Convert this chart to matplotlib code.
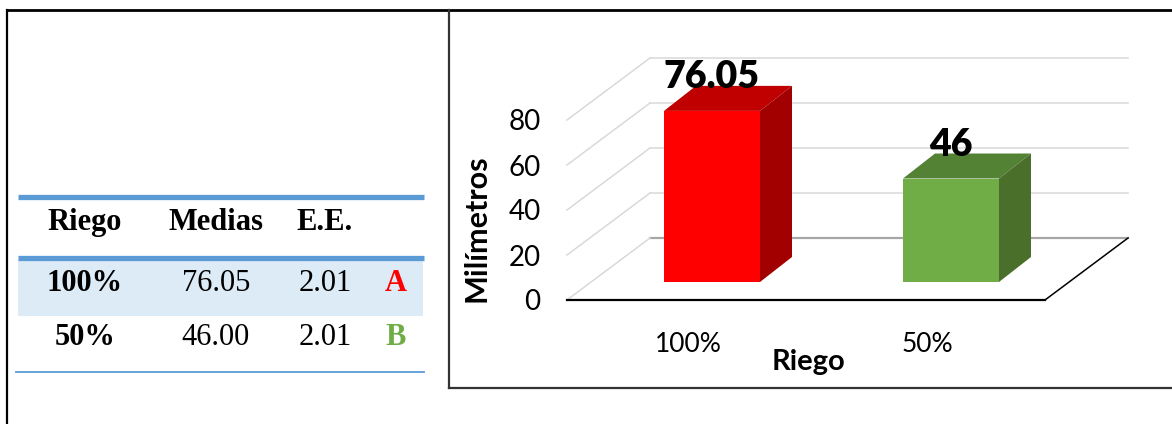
import matplotlib
matplotlib.use("Agg")
import matplotlib.pyplot as plt
from matplotlib.patches import Polygon, Rectangle

# datos
riego = ["100%", "50%"]
medias = [76.05, 46.00]
error_est = [2.01, 2.01]
letras = ["A", "B"]
yticks = [0, 20, 40, 60, 80]

# colores (frente, arriba, lado)
rojo = ("#FF0000", "#C00000", "#A20000")
verde = ("#70AD47", "#548235", "#4A6F2B")
colores_barra = [rojo, verde]
colores_letra = ["#FF0000", "#70AD47"]
azul = "#5B9BD5"

W, H = 1172, 424
fig = plt.figure(figsize=(W / 100, H / 100), dpi=100)

# ---------- marcos y tabla (coordenadas en pixeles) ----------
bg = fig.add_axes([0, 0, 1, 1])
bg.set_xlim(0, W)
bg.set_ylim(H, 0)
bg.axis("off")

bg.plot([7, 7], [10, H], color="black", lw=1.6)
bg.plot([7, W], [10, 10], color="black", lw=2.0)
bg.plot([449, 449], [10, 388], color="#333333", lw=1.6)
bg.plot([449, W], [388, 388], color="#333333", lw=1.6)

serif = ["Liberation Serif", "DejaVu Serif"]
fs_tab = 22
bg.plot([18, 424], [197, 197], color=azul, lw=3.8, solid_capstyle="butt")
bg.plot([18, 424], [258, 258], color=azul, lw=3.8, solid_capstyle="butt")
bg.add_patch(Rectangle((18, 260), 405, 56, color="#DDEBF7", lw=0))
bg.plot([16, 424], [372, 372], color=azul, lw=1.3)

cols_x = [85, 216, 325, 396]
for x, t in zip(cols_x[:3], ["Riego", "Medias", "E.E."]):
    bg.text(x, 230, t, ha="center", va="baseline", fontsize=fs_tab,
            fontweight="bold", family=serif)

for i, base in enumerate([291, 345]):
    bg.text(cols_x[0], base, riego[i], ha="center", va="baseline",
            fontsize=fs_tab, fontweight="bold", family=serif)
    bg.text(cols_x[1], base, f"{medias[i]:.2f}", ha="center", va="baseline",
            fontsize=fs_tab, family=serif)
    bg.text(cols_x[2], base, f"{error_est[i]:.2f}", ha="center", va="baseline",
            fontsize=fs_tab, family=serif)
    bg.text(cols_x[3], base, letras[i], ha="center", va="baseline",
            fontsize=fs_tab, fontweight="bold", family=serif,
            color=colores_letra[i])

# ---------- grafico de barras 3D ----------
sans = ["Lato", "DejaVu Sans"]
left, right, top, bottom = 567, 1130, 40, 300
ax = fig.add_axes([left / W, 1 - bottom / H, (right - left) / W, (bottom - top) / H])
px_x = 239.0   # pixeles por unidad de categoria
px_y = 2.25    # pixeles por mm
x0 = -(688 - left) / px_x
ax.set_xlim(x0, x0 + (right - left) / px_x)
ax.set_ylim(0, (bottom - top) / px_y)

# profundidad del piso y de las barras
DX, DY = 83 / px_x, 62 / px_y
BX0, BY0 = 24 / px_x, 18 / px_y
BDX, BDY = 32 / px_x, 25 / px_y
BW = 96 / px_x
x_fin = x0 + (1045 - left) / px_x

for t in yticks:
    c = "#A6A6A6" if t == 0 else "#D9D9D9"
    ax.plot([x0 + DX, x_fin + DX], [t + DY, t + DY], color=c,
            lw=1.6 if t == 0 else 1.1, zorder=1, clip_on=False)
    ax.plot([x0, x0 + DX], [t, t + DY], color="#D9D9D9", lw=1.1, zorder=1,
            clip_on=False)
ax.plot([x0, x_fin], [0, 0], color="black", lw=1.6, zorder=2, clip_on=False)
ax.plot([x_fin, x_fin + DX], [0, DY], color="black", lw=1.1, zorder=2,
        clip_on=False)

pos = list(range(len(riego)))
ax.bar([p + BX0 for p in pos], medias, width=BW, bottom=BY0,
       color=[c[0] for c in colores_barra], zorder=3, clip_on=False)
for p, v, c in zip(pos, medias, colores_barra):
    xl, xr = p + BX0 - BW / 2, p + BX0 + BW / 2
    yb, yt = BY0, BY0 + v
    ax.add_patch(Polygon([(xl, yt), (xr, yt), (xr + BDX, yt + BDY), (xl + BDX, yt + BDY)],
                         closed=True, color=c[1], lw=0, zorder=3, clip_on=False))
    ax.add_patch(Polygon([(xr, yb), (xr + BDX, yb + BDY), (xr + BDX, yt + BDY), (xr, yt)],
                         closed=True, color=c[2], lw=0, zorder=3, clip_on=False))
    ax.text(p + BX0, yt + BDY - 0.9, f"{v:g}", ha="center", va="baseline",
            fontsize=27, fontweight="heavy", family=sans, zorder=5)

for s in ax.spines.values():
    s.set_visible(False)
ax.set_yticks(yticks)
ax.set_yticklabels([str(t) for t in yticks], fontsize=20, family=sans)
ax.tick_params(axis="y", length=0, pad=19)
ax.set_xticks(pos)
ax.set_xticklabels(riego, fontsize=19, family=sans)
ax.tick_params(axis="x", length=0, pad=23)

ax.set_xlabel("Riego", fontsize=21, fontweight="bold", family=sans)
ax.xaxis.set_label_coords((808 - left) / (right - left), -(362 - bottom) / (bottom - top))
ax.xaxis.label.set_va("center")
ax.set_ylabel("Milímetros", fontsize=22, fontweight="bold", family=sans)
ax.yaxis.set_label_coords((477 - left) / (right - left), (bottom - 228) / (bottom - top))
ax.yaxis.label.set_va("center")

fig.savefig("out.png", dpi=100)
